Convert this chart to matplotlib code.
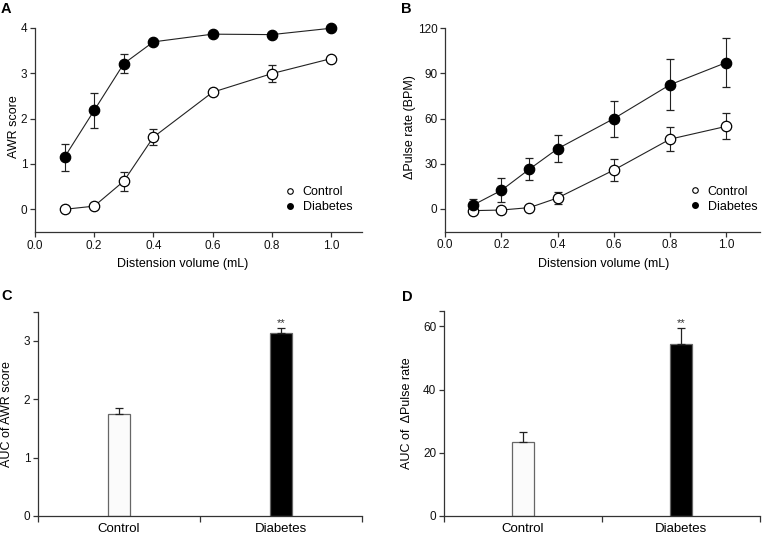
import matplotlib
matplotlib.use("Agg")
import matplotlib.pyplot as plt
import numpy as np

plt.rcParams['font.family'] = ['Liberation Sans', 'DejaVu Sans']

# ---- data ----
volume = [0.1, 0.2, 0.3, 0.4, 0.6, 0.8, 1.0]

awr_control = [0.0, 0.07, 0.62, 1.59, 2.58, 2.99, 3.32]
awr_control_err = [0.0, 0.0, 0.21, 0.17, 0.03, 0.19, 0.03]
awr_diabetes = [1.15, 2.18, 3.21, 3.69, 3.86, 3.85, 3.99]
awr_diabetes_err = [0.30, 0.39, 0.21, 0.03, 0.03, 0.03, 0.03]

pulse_control = [-1.1, -0.7, 0.9, 7.3, 25.8, 46.3, 54.8]
pulse_control_err = [2.0, 1.0, 1.0, 4.0, 7.5, 8.0, 8.6]
pulse_diabetes = [2.6, 12.3, 26.4, 39.9, 59.9, 82.4, 97.1]
pulse_diabetes_err = [4.0, 8.0, 7.2, 9.0, 12.0, 17.0, 16.0]

groups = ['Control', 'Diabetes']
auc_awr = [1.74, 3.13]
auc_awr_err = [0.11, 0.09]
auc_pulse = [23.3, 54.3]
auc_pulse_err = [3.4, 5.2]

W, H = 764, 534
fig = plt.figure(figsize=(W / 100, H / 100), dpi=100)

def rect(x0, x1, ytop, ybot):
    return [x0 / W, 1 - ybot / H, (x1 - x0) / W, (ybot - ytop) / H]

axA = fig.add_axes(rect(35, 362, 21, 232))
axB = fig.add_axes(rect(445, 760, 22, 231.6))
axC = fig.add_axes(rect(38, 362, 311.8, 516))
axD = fig.add_axes(rect(444, 760, 310.7, 516))

spine_c = '#333333'
for ax in (axA, axB, axC, axD):
    ax.spines['top'].set_visible(False)
    ax.spines['right'].set_visible(False)
    for s in ('left', 'bottom'):
        ax.spines[s].set_color(spine_c)
        ax.spines[s].set_linewidth(0.9)
    ax.tick_params(direction='out', length=3.5, width=0.9, color=spine_c,
                   labelsize=8.5, pad=2, labelcolor='#111111')

def line_panel(ax, yc, yce, yd, yde, ylim, yticks, ybounds, xlim):
    ax.errorbar(volume, yc, yerr=yce, fmt='-o', color='#222222', lw=0.8,
                ecolor='#222222', elinewidth=0.8, capsize=3, capthick=0.8,
                markersize=7.5, markerfacecolor='white', markeredgecolor='black',
                markeredgewidth=0.9, zorder=3)
    ax.errorbar(volume, yd, yerr=yde, fmt='-o', color='#222222', lw=0.8,
                ecolor='#222222', elinewidth=0.8, capsize=3, capthick=0.8,
                markersize=7.5, markerfacecolor='black', markeredgecolor='black',
                markeredgewidth=0.9, zorder=3)
    ax.set_xlim(*xlim)
    ax.set_ylim(*ylim)
    ax.set_xticks([0.0, 0.2, 0.4, 0.6, 0.8, 1.0])
    ax.set_xticklabels(['0.0', '0.2', '0.4', '0.6', '0.8', '1.0'])
    ax.set_yticks(yticks)
    ax.spines['left'].set_bounds(*ybounds)
    ax.spines['bottom'].set_bounds(*xlim)

line_panel(axA, awr_control, awr_control_err, awr_diabetes, awr_diabetes_err,
           (-0.5, 4.15), [0, 1, 2, 3, 4], (-0.5, 4), (0, 1.105))
line_panel(axB, pulse_control, pulse_control_err, pulse_diabetes, pulse_diabetes_err,
           (-15, 124), [0, 30, 60, 90, 120], (-15, 120), (0, 1.12))

axA.set_ylabel('AWR score', fontsize=9)
axA.yaxis.set_label_coords(-0.046, 0.5)
axA.set_xlabel('Distension volume (mL)', fontsize=9)
axA.xaxis.set_label_coords(0.45, -0.125)

axB.set_ylabel('\u0394Pulse rate (BPM)', fontsize=9)
axB.yaxis.set_label_coords(-0.092, 0.5)
axB.set_xlabel('Distension volume (mL)', fontsize=9)
axB.xaxis.set_label_coords(0.505, -0.125)

from matplotlib.lines import Line2D
def add_legend(ax, anchor):
    handles = [Line2D([], [], ls='none', marker='o', markersize=4,
                      markerfacecolor='white', markeredgecolor='black', markeredgewidth=0.8),
               Line2D([], [], ls='none', marker='o', markersize=4,
                      markerfacecolor='black', markeredgecolor='black')]
    ax.legend(handles, groups, loc='center left', bbox_to_anchor=anchor,
              frameon=False, fontsize=9, handlelength=0.8, handletextpad=0.6,
              labelspacing=0.25, borderpad=0, borderaxespad=0)

add_legend(axA, (0.765, 0.154))
add_legend(axB, (0.778, 0.155))

def bar_panel(ax, vals, errs, ylim, yticks, ylabel, lab_x):
    pos = [0.5, 1.5]
    ax.bar(pos, vals, width=0.136, color=['#fbfbfb', 'black'],
           edgecolor='#666666', linewidth=0.9, zorder=2)
    ax.errorbar(pos, vals, yerr=[[0, 0], errs], fmt='none', ecolor='#222222',
                elinewidth=0.9, capsize=3.2, capthick=0.9, zorder=3)
    ax.set_xlim(0, 2)
    ax.set_ylim(*ylim)
    ax.set_xticks([0, 1, 2])
    ax.set_xticklabels(['', '', ''])
    ax.set_xticks(pos, minor=True)
    ax.set_xticklabels(groups, minor=True, fontsize=9.5)
    ax.tick_params(axis='x', which='minor', length=0, pad=5)
    ax.tick_params(axis='x', which='major', length=4)
    ax.set_yticks(yticks)
    ax.set_yticklabels([str(t) for t in yticks[:-1]] + [''])
    ax.set_ylabel(ylabel, fontsize=9)
    ax.yaxis.set_label_coords(lab_x, 0.5)
    ax.text(pos[1], vals[1] + errs[1], '**', ha='center', va='bottom',
            fontsize=8, color='#333333')

bar_panel(axC, auc_awr, auc_awr_err, (0, 3.5), [0, 1, 2, 3, 3.5],
          'AUC of AWR score', -0.077)
bar_panel(axD, auc_pulse, auc_pulse_err, (0, 65), [0, 20, 40, 60, 65],
          'AUC of  \u0394Pulse rate', -0.098)

for lab, (x, y) in zip('ABCD', [(1, 2), (401, 2), (1, 289), (402, 290)]):
    fig.text(x / W, 1 - y / H, lab, fontsize=10.5, fontweight='bold',
             ha='left', va='top')

fig.savefig('out.png', dpi=100)
